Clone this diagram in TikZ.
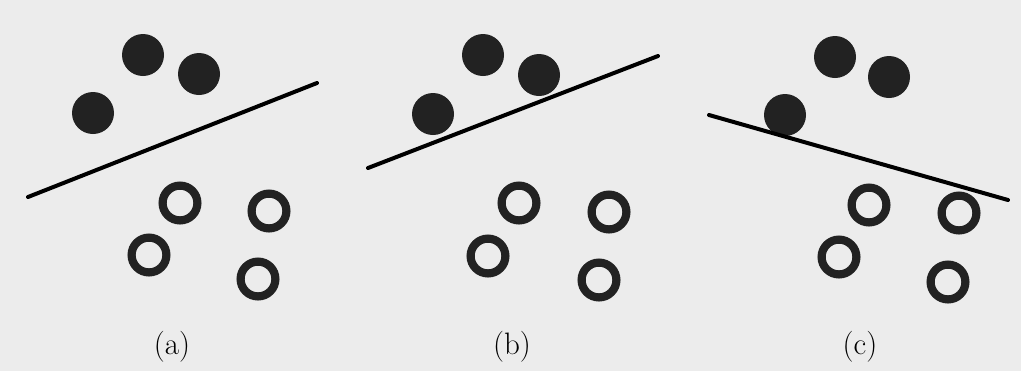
\documentclass[tikz,border=0pt]{standalone}
\usepackage{tikz}
\usetikzlibrary{positioning}
\definecolor{paper}{RGB}{236,236,236}
\definecolor{ink}{RGB}{34,34,34}

\begin{document}
\begin{tikzpicture}[x=0.5pt,y=-0.5pt,
 dot/.style={circle,fill=ink,inner sep=0pt,minimum size=21pt},
 ring/.style={circle,draw=ink,line width=4.1pt,fill=paper,inner sep=0pt,minimum size=17.4pt},
 sep/.style={line width=2pt,line cap=round},
 lab/.style={font=\fontsize{15.5}{18}\selectfont}]
\fill[paper] (0,0) rectangle (1021,371);
\useasboundingbox (0,0) rectangle (1021,371);
% (a)
\node[dot] (a1) at (93,113) {};
\node[dot] (a2) at (143,55) {};
\node[dot] (a3) at (199,74) {};
\node[ring] (a4) at (180,203) {};
\node[ring] (a5) at (269,211) {};
\node[ring] (a6) at (149,255) {};
\node[ring] (a7) at (258,279) {};
\coordinate (as) at (28,197);
\coordinate (ae) at (317,83);
\draw[sep] (as)--(ae);
\node[lab] (la) at (172,347) {(a)};
% (b)
\node[dot] (b1) at (433,114) {};
\node[dot] (b2) at (483,55) {};
\node[dot] (b3) at (539,75) {};
\node[ring] (b4) at (519,203) {};
\node[ring] (b5) at (609,212) {};
\node[ring] (b6) at (488,256) {};
\node[ring] (b7) at (599,280) {};
\coordinate (bs) at (368,168);
\coordinate (be) at (658,56);
\draw[sep] (bs)--(be);
\node[lab] (lb) at (512,347) {(b)};
% (c)
\node[dot] (c1) at (785,115) {};
\node[dot] (c2) at (835,57) {};
\node[dot] (c3) at (889,77) {};
\node[ring] (c4) at (869,205) {};
\node[ring] (c5) at (959,213) {};
\node[ring] (c6) at (839,257) {};
\node[ring] (c7) at (948,282) {};
\coordinate (cs) at (709,115);
\coordinate (ce) at (1008,200);
\draw[sep] (cs)--(ce);
\node[lab] (lc) at (860,347) {(c)};
\end{tikzpicture}
\end{document}
